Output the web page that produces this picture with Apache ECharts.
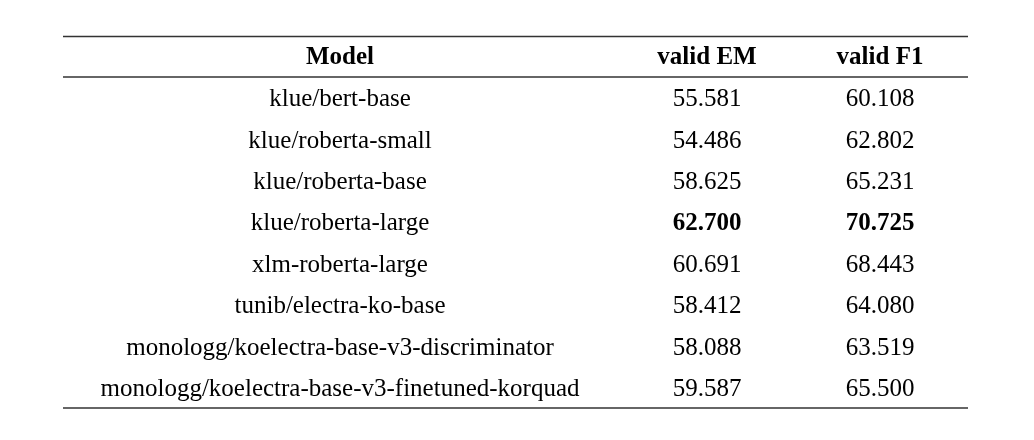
<!DOCTYPE html>
<html>
<head>
<meta charset="utf-8">
<script src="https://cdn.jsdelivr.net/npm/echarts@6/dist/echarts.min.js"></script>
<style>
html, body { margin: 0; background: #fff; }
#main { width: 1034px; height: 440px; }
</style>
</head>
<body>
<div id="main"></div>
<script>
// table content
const columns = ['Model', 'valid EM', 'valid F1'];
const models = [
  'klue/bert-base',
  'klue/roberta-small',
  'klue/roberta-base',
  'klue/roberta-large',
  'xlm-roberta-large',
  'tunib/electra-ko-base',
  'monologg/koelectra-base-v3-discriminator',
  'monologg/koelectra-base-v3-finetuned-korquad'
];
const validEM = [55.581, 54.486, 58.625, 62.700, 60.691, 58.412, 58.088, 59.587];
const validF1 = [60.108, 62.802, 65.231, 70.725, 68.443, 64.080, 63.519, 65.500];

const FONT = "'Liberation Serif', 'Times New Roman', serif";
const FS = 25;
const LINE = '#333';
const TEXT = '#000';

let chart = echarts.init(document.getElementById('main'), null, { renderer: 'canvas' });

// one grid per column, all sharing the same rows
const grids = [
  { left: 63, width: 554, top: 77, height: 331 },
  { left: 617, width: 180, top: 77, height: 331 },
  { left: 797, width: 166, top: 77, height: 331 }
];

function xAxisFor(i) {
  return {
    type: 'category',
    gridIndex: i,
    position: 'top',
    data: [columns[i]],
    axisLine: { show: false },
    axisTick: { show: false },
    axisLabel: { margin: 7, fontFamily: FONT, fontSize: FS, fontWeight: 'bold', color: TEXT }
  };
}
function yAxisFor(i) {
  return {
    type: 'category',
    gridIndex: i,
    inverse: true,
    data: models,
    show: false
  };
}

const cellLabel = {
  show: true,
  position: 'inside',
  offset: [0, 2],
  fontFamily: FONT,
  fontSize: FS,
  color: TEXT
};

function valueSeries(i, values) {
  let best = Math.max.apply(null, values);
  return {
    type: 'scatter',
    xAxisIndex: i,
    yAxisIndex: i,
    symbolSize: 0,
    silent: true,
    itemStyle: { opacity: 1 },
    data: values.map(function (v, k) {
      return {
        value: [columns[i], models[k], v],
        label: { fontWeight: v === best ? 'bold' : 'normal' }
      };
    }),
    label: Object.assign({}, cellLabel, {
      formatter: function (p) { return p.value[2].toFixed(3); }
    })
  };
}

let option = {
  animation: false,
  backgroundColor: '#fff',
  grid: grids,
  xAxis: [xAxisFor(0), xAxisFor(1), xAxisFor(2)],
  yAxis: [yAxisFor(0), yAxisFor(1), yAxisFor(2)],
  // the three horizontal rules of the table
  graphic: [
    { type: 'line', shape: { x1: 63, y1: 36.5, x2: 968, y2: 36.5 }, style: { stroke: LINE, lineWidth: 1.5 } },
    { type: 'line', shape: { x1: 63, y1: 77, x2: 968, y2: 77 }, style: { stroke: LINE, lineWidth: 1.5 } },
    { type: 'line', shape: { x1: 63, y1: 408, x2: 968, y2: 408 }, style: { stroke: LINE, lineWidth: 1.5 } }
  ],
  series: [
    {
      type: 'scatter',
      xAxisIndex: 0,
      yAxisIndex: 0,
      symbolSize: 0,
      silent: true,
      itemStyle: { opacity: 1 },
      data: models.map(function (m) { return [columns[0], m]; }),
      label: Object.assign({}, cellLabel, {
        formatter: function (p) { return p.value[1]; }
      })
    },
    valueSeries(1, validEM),
    valueSeries(2, validF1)
  ]
};
chart.setOption(option);
</script>
</body>
</html>
